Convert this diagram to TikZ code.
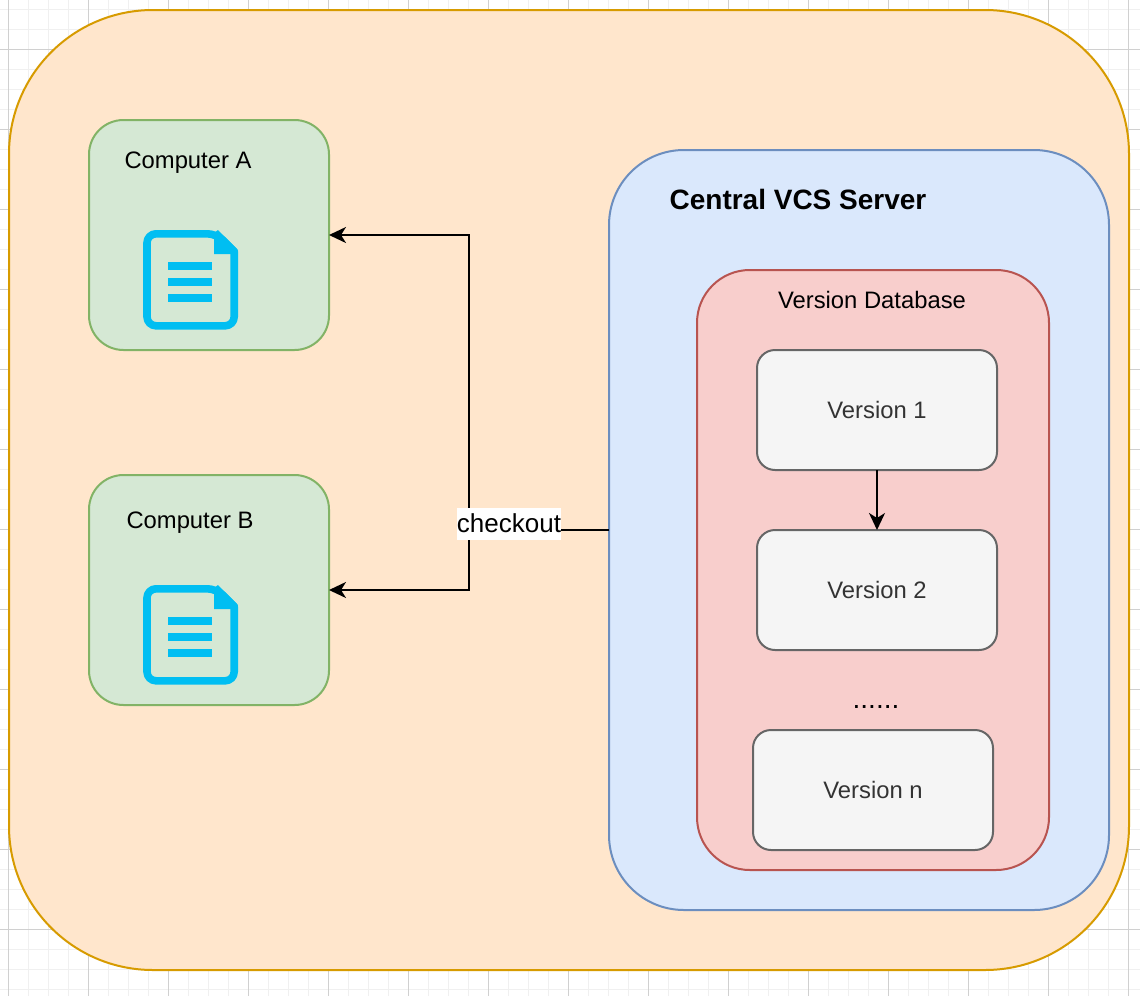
\documentclass[tikz,border=0pt]{standalone}
\usepackage{fontspec}
\setmainfont{Liberation Sans}
\usetikzlibrary{arrows.meta}
\definecolor{gridmajor}{HTML}{D0D0D0}
\definecolor{gridminor}{HTML}{F0F0F0}
\definecolor{orfill}{HTML}{FFE6CC}\definecolor{orline}{HTML}{D79B00}
\definecolor{grfill}{HTML}{D5E8D4}\definecolor{grline}{HTML}{82B366}
\definecolor{blfill}{HTML}{DAE8FC}\definecolor{blline}{HTML}{6C8EBF}
\definecolor{rdfill}{HTML}{F8CECC}\definecolor{rdline}{HTML}{B85450}
\definecolor{vrfill}{HTML}{F5F5F5}\definecolor{vrline}{HTML}{666666}
\definecolor{vrtext}{HTML}{333333}
\definecolor{iconblue}{HTML}{00BEF2}
\tikzset{
  x=1pt,y=-1pt,
  box/.style={draw,line width=2pt,inner sep=0pt,outer sep=0pt,shape=rectangle},
  lbl/.style={inner sep=0pt,outer sep=0pt,font=\fontsize{23.8}{28}\selectfont,text=black},
  versionbox/.style={box,fill=vrfill,draw=vrline,rounded corners=18pt,minimum width=240pt,minimum height=120pt,
     font=\fontsize{23.8}{28}\selectfont,text=vrtext},
  computerbox/.style={box,fill=grfill,draw=grline,rounded corners=34.5pt,minimum width=240pt,minimum height=230pt},
  conn/.style={line width=2pt,draw=black},
  tipped/.style={conn,-{Stealth[length=17pt,width=16pt,inset=5pt]}},
  pics/docicon/.style={code={
    \draw[iconblue,line width=7.6pt,line join=round,rounded corners=9pt]
      (147,233.8) -- (216.5,233.8) [sharp corners] -- (234.2,251.5) [rounded corners=9pt] -- (234.2,325.8) -- (147,325.8) -- cycle;
    \fill[iconblue] (214,233) -- (218,230) -- (238,250) -- (236,254) -- (214,254) -- cycle;
    \fill[iconblue] (168,262) rectangle (212,270);
    \fill[iconblue] (168,278) rectangle (212,286);
    \fill[iconblue] (168,294) rectangle (212,302);
  }}
}
\begin{document}
\begin{tikzpicture}
\useasboundingbox (0,0) rectangle (1140,996);
\fill[white] (0,0) rectangle (1140,996);
\foreach \i in {0,...,57} {\draw[gridminor,line width=1pt] ({8.5+20*\i},0) -- ({8.5+20*\i},996);}
\foreach \i in {0,...,49} {\draw[gridminor,line width=1pt] (0,{9+20*\i}) -- (1140,{9+20*\i});}
\foreach \i in {0,...,14} {\draw[gridmajor,line width=1pt] ({8.5+80*\i},0) -- ({8.5+80*\i},996);}
\foreach \i in {0,...,12} {\draw[gridmajor,line width=1pt] (0,{49+80*\i}) -- (1140,{49+80*\i});}

\node[box,fill=orfill,draw=orline,rounded corners=144pt,minimum width=1120pt,minimum height=960pt] (outer) at (569,490) {};
\node[computerbox] (compA) at (209,235) {};
\node[computerbox] (compB) at (209,590) {};
\node[box,fill=blfill,draw=blline,rounded corners=75pt,minimum width=500pt,minimum height=760pt] (server) at (859,530) {};
\node[box,fill=rdfill,draw=rdline,rounded corners=52.8pt,minimum width=352pt,minimum height=600pt] (db) at (873,570) {};
\node[versionbox] (v1) at (877,410) {Version 1};
\node[versionbox] (v2) at (877,590) {Version 2};
\node[versionbox] (vn) at (873,790) {Version n};

\node[lbl] (ca) at (188,163) {Computer A};
\node[lbl] (cb) at (190,523) {Computer B};
\node[lbl,font=\fontsize{28}{33}\selectfont\bfseries] (srv) at (798,199) {Central VCS Server};
\node[lbl] (dbl) at (872,300) {Version Database};
\node[lbl,font=\fontsize{28}{33}\selectfont] (dots) at (876,707) {......};

\pic at (0,0) {docicon};
\pic at (0,355) {docicon};

\coordinate (junction) at (469,530);
\draw[conn] (server.west) -- (junction);
\draw[tipped] (junction) |- (compA.east);
\draw[tipped] (junction) |- (compB.east);
\draw[tipped] (v1.south) -- (v2.north);
\node[lbl,fill=white,minimum width=104pt,minimum height=32pt,text depth=2pt,font=\fontsize{26}{30}\selectfont] (chk) at (509,524) {checkout};
\end{tikzpicture}
\end{document}
